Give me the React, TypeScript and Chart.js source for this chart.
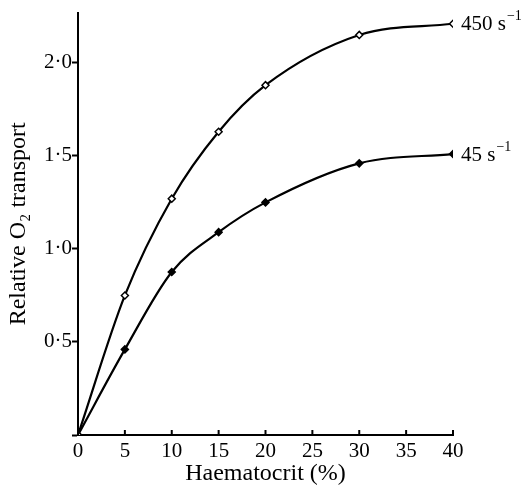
import React, { useEffect, useRef } from "react";
import { Chart, registerables } from "chart.js";

Chart.register(...registerables);

const haematocrit = [0, 5, 10, 15, 20, 30, 40];
const transport450 = [0, 0.75, 1.27, 1.63, 1.88, 2.15, 2.21];
const transport45 = [0, 0.46, 0.876, 1.09, 1.25, 1.46, 1.51];
const seriesLabels = ["450", "45"];
const xTicks = [0, 5, 10, 15, 20, 25, 30, 35, 40];
const yTicks = [0, 0.5, 1.0, 1.5, 2.0];

const FONT = "'Liberation Serif', 'DejaVu Serif', serif";

const decorPlugin = {
  id: "decor",
  afterDraw(chart: any) {
    const ctx = chart.ctx;
    const xs = chart.scales.x;
    const ys = chart.scales.y;
    ctx.save();
    ctx.strokeStyle = "#000";
    ctx.lineWidth = 2;
    // inward x ticks
    xTicks.forEach((t) => {
      const px = xs.getPixelForValue(t);
      ctx.beginPath();
      ctx.moveTo(px, ys.bottom);
      ctx.lineTo(px, ys.bottom - 5);
      ctx.stroke();
    });
    // end labels
    ctx.fillStyle = "#000";
    ctx.textBaseline = "middle";
    const ends = [transport450, transport45];
    ends.forEach((arr, i) => {
      const x = xs.getPixelForValue(haematocrit[haematocrit.length - 1]) + 8;
      const y = ys.getPixelForValue(arr[arr.length - 1]);
      ctx.font = `21px ${FONT}`;
      const main = seriesLabels[i] + " s";
      ctx.fillText(main, x, y + 1);
      const w = ctx.measureText(main).width;
      ctx.font = `14px ${FONT}`;
      ctx.fillText("\u22121", x + w + 1, y - 7);
    });
    ctx.restore();
  },
};

export default function App() {
  const ref = useRef<HTMLCanvasElement>(null);
  useEffect(() => {
    if (!ref.current) return;
    const common = {
      borderColor: "#000",
      borderWidth: 2.2,
      pointStyle: "rectRot",
      pointRadius: 3.5,
      pointBorderWidth: 1.5,
      pointBorderColor: "#000",
      cubicInterpolationMode: "monotone",
    };
    const chart = new Chart(ref.current, {
      type: "line",
      data: {
        datasets: [
          {
            ...common,
            label: "450",
            data: haematocrit.map((x, i) => ({ x, y: transport450[i] })),
            backgroundColor: "#fff",
            pointBackgroundColor: "#fff",
          },
          {
            ...common,
            label: "45",
            data: haematocrit.map((x, i) => ({ x, y: transport45[i] })),
            backgroundColor: "#000",
            pointBackgroundColor: "#000",
          },
        ],
      },
      options: {
        animation: false,
        responsive: false,
        maintainAspectRatio: false,
        layout: { padding: { left: 0, right: 72, top: 12, bottom: 0 } },
        plugins: { legend: { display: false }, tooltip: { enabled: false } },
        scales: {
          x: {
            type: "linear",
            min: 0,
            max: 40,
            afterBuildTicks: (s: any) => {
              s.ticks = xTicks.map((v) => ({ value: v }));
            },
            afterFit: (s: any) => {
              s.height = 53;
            },
            grid: { display: false, drawTicks: false },
            border: { display: true, color: "#000", width: 2 },
            ticks: {
              color: "#000",
              font: { family: FONT, size: 21 },
              padding: 4,
              maxRotation: 0,
              autoSkip: false,
            },
            title: {
              display: true,
              text: "Haematocrit (%)",
              color: "#000",
              font: { family: FONT, size: 24 },
              padding: { top: 0, bottom: 0 },
            },
          },
          y: {
            type: "linear",
            min: 0,
            max: 2.27,
            afterBuildTicks: (s: any) => {
              s.ticks = yTicks.map((v) => ({ value: v }));
            },
            afterFit: (s: any) => {
              s.width = 78;
            },
            grid: { display: true, drawOnChartArea: false, drawTicks: true, tickLength: 6, tickWidth: 2, tickColor: "#000" },
            border: { display: true, color: "#000", width: 2 },
            ticks: {
              color: "#000",
              font: { family: FONT, size: 21 },
              padding: 0,
              autoSkip: false,
              callback: (v: any) => (v === 0 ? "" : Number(v).toFixed(1).replace(".", "\u00b7")),
            },
            title: {
              display: true,
              text: "Relative O\u2082 transport",
              color: "#000",
              font: { family: FONT, size: 24 },
              padding: { top: 4, bottom: 0 },
            },
          },
        },
      },
      plugins: [decorPlugin],
    } as any);
    return () => chart.destroy();
  }, []);
  return (
    <canvas
      ref={ref}
      width={525}
      height={488}
      style={{ position: "fixed", left: 0, top: 0, width: 525, height: 488, background: "#fff" }}
    />
  );
}
